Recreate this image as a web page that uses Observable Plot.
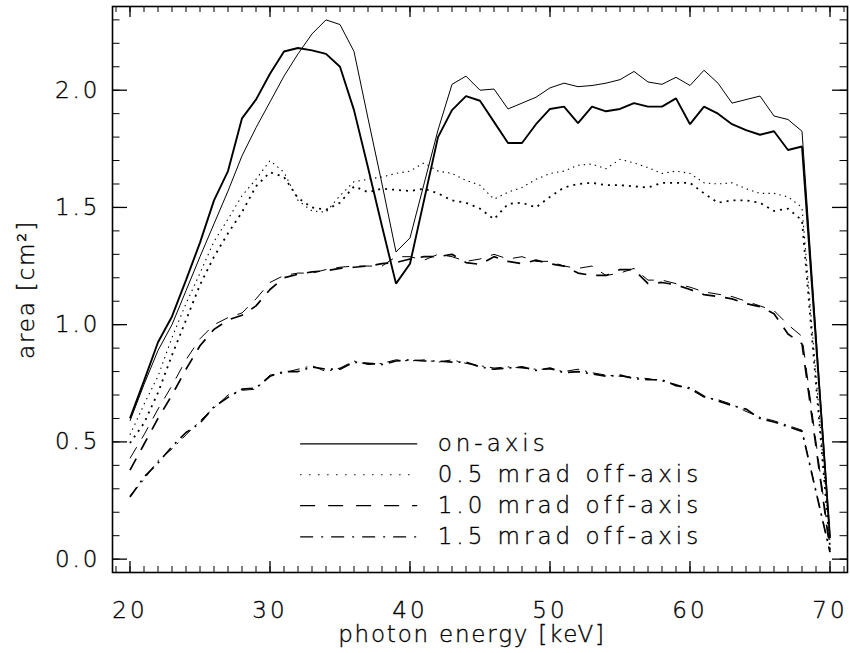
<!DOCTYPE html>
<html>
<head>
<meta charset="utf-8">
<script src="https://cdn.jsdelivr.net/npm/d3@7"></script>
<script src="https://cdn.jsdelivr.net/npm/@observablehq/plot@0.6"></script>
<style>
  html, body { margin: 0; padding: 0; background: white; }
  #chart { width: 850px; height: 653px; }
  #chart text { fill: black; stroke: black; stroke-width: 0.35px; }
  .tk text { letter-spacing: 3px; }
  .lg text { letter-spacing: 4px; }
  .tt text { letter-spacing: 1.8px; }
</style>
</head>
<body>
<div id="chart"></div>
<script>
// photon energy grid [keV]
const energy = [20,21,22,23,24,25,26,27,28,29,30,31,32,33,34,35,36,37,38,39,40,41,42,43,44,45,46,47,48,49,50,51,52,53,54,55,56,57,58,59,60,61,62,63,64,65,66,67,68,70];

// on-axis (two curves)
const onAxisA = [0.60,0.76,0.925,1.035,1.19,1.35,1.53,1.655,1.88,1.96,2.07,2.165,2.18,2.17,2.155,2.10,1.915,1.67,1.42,1.175,1.26,1.53,1.80,1.915,1.975,1.955,1.865,1.775,1.775,1.855,1.92,1.93,1.86,1.93,1.91,1.92,1.945,1.93,1.93,1.965,1.855,1.93,1.90,1.855,1.83,1.81,1.825,1.745,1.76,0.09];
const onAxisB = [0.59,0.745,0.89,1.0,1.145,1.29,1.43,1.57,1.72,1.84,1.95,2.06,2.155,2.24,2.30,2.28,2.165,1.88,1.60,1.31,1.37,1.60,1.83,2.025,2.06,2.0,2.005,1.92,1.945,1.97,2.01,2.03,2.015,2.02,2.03,2.045,2.08,2.035,2.025,2.055,2.02,2.085,2.03,1.945,1.96,1.975,1.89,1.875,1.825,0.10];

// 0.5 mrad off-axis
const off05A = [0.53,0.66,0.78,0.945,1.09,1.22,1.355,1.45,1.55,1.62,1.70,1.65,1.53,1.485,1.48,1.55,1.61,1.62,1.63,1.645,1.655,1.69,1.655,1.645,1.615,1.595,1.535,1.565,1.585,1.62,1.645,1.655,1.68,1.685,1.665,1.705,1.69,1.67,1.645,1.655,1.645,1.605,1.60,1.605,1.58,1.56,1.56,1.545,1.50,0.07];
const off05B = [0.495,0.58,0.71,0.87,1.02,1.17,1.29,1.39,1.48,1.59,1.65,1.63,1.54,1.50,1.49,1.52,1.59,1.565,1.58,1.575,1.57,1.58,1.56,1.53,1.52,1.495,1.45,1.515,1.52,1.50,1.545,1.585,1.60,1.605,1.595,1.595,1.59,1.585,1.605,1.605,1.605,1.56,1.52,1.53,1.53,1.52,1.485,1.495,1.445,0.05];

// 1.0 mrad off-axis
const off10A = [0.43,0.53,0.64,0.74,0.85,0.94,1.00,1.03,1.05,1.11,1.18,1.21,1.22,1.22,1.235,1.245,1.25,1.25,1.25,1.29,1.29,1.275,1.30,1.29,1.27,1.28,1.30,1.28,1.29,1.27,1.27,1.25,1.24,1.25,1.21,1.22,1.24,1.19,1.19,1.175,1.16,1.14,1.13,1.12,1.10,1.08,1.06,1.00,0.95,0.05];
const off10B = [0.38,0.49,0.60,0.70,0.81,0.91,0.98,1.02,1.04,1.08,1.15,1.20,1.215,1.225,1.23,1.24,1.245,1.25,1.26,1.265,1.28,1.29,1.29,1.30,1.265,1.257,1.29,1.27,1.26,1.275,1.26,1.25,1.22,1.21,1.21,1.235,1.235,1.175,1.18,1.17,1.15,1.128,1.12,1.11,1.09,1.077,1.047,0.96,0.918,0.04];

// 1.5 mrad off-axis
const off15A = [0.27,0.34,0.42,0.47,0.53,0.59,0.645,0.70,0.72,0.725,0.785,0.795,0.81,0.825,0.80,0.815,0.845,0.83,0.835,0.85,0.845,0.85,0.84,0.85,0.835,0.825,0.815,0.82,0.815,0.81,0.81,0.80,0.81,0.795,0.785,0.78,0.775,0.77,0.76,0.745,0.725,0.69,0.68,0.66,0.63,0.605,0.59,0.57,0.55,0.03];
const off15B = [0.265,0.35,0.41,0.48,0.54,0.58,0.65,0.69,0.725,0.73,0.78,0.80,0.80,0.82,0.81,0.81,0.84,0.835,0.83,0.845,0.85,0.845,0.845,0.84,0.84,0.82,0.81,0.815,0.82,0.805,0.815,0.795,0.80,0.79,0.78,0.785,0.77,0.765,0.765,0.74,0.73,0.695,0.675,0.655,0.64,0.60,0.585,0.565,0.545,0.03];

// legend
const legendLabels = ["on-axis", "0.5 mrad off-axis", "1.0 mrad off-axis", "1.5 mrad off-axis"];
const legendY = [0.492, 0.36, 0.228, 0.095];

// axis ticks
const xMajor = [20, 30, 40, 50, 60, 70];
const xMinor = d3.range(19, 72, 1);
const yMajor = [0.0, 0.5, 1.0, 1.5, 2.0];
const yMinor = d3.range(0, 24).map(i => i / 10);

const series = [
  {vals: onAxisA, dash: null, w: 1.9},
  {vals: onAxisB, dash: null, w: 1.0},
  {vals: off05A, dash: "1.4,4.2", w: 1.1},
  {vals: off05B, dash: "2,5", w: 1.8},
  {vals: off10A, dash: "13,10", w: 1.0},
  {vals: off10B, dash: "13,10", w: 1.7},
  {vals: off15A, dash: "12,6,2,6", w: 1.0},
  {vals: off15B, dash: "12,6,2,6", w: 1.7}
];

const legendDash = [null, "1.4,7.6", "15,13", "13,8,2,8"];
const legendData = legendLabels.map((label, i) => ({label, y: legendY[i], dash: legendDash[i]}));

const W = 850, H = 653, mL = 112, mR = 3, mT = 6, mB = 81;
const innerH = H - mT - mB;
const innerW = W - mL - mR;

const lineMarks = series.map(s =>
  Plot.line(energy.map((e, i) => ({e, v: s.vals[i]})), {
    x: "e", y: "v", stroke: "black", strokeWidth: s.w,
    strokeDasharray: s.dash, strokeLinejoin: "miter", strokeLinecap: "butt"
  })
);

const legendMarks = legendData.map(d => [
  Plot.ruleY([d], {x1: 32.19, x2: 40.55, y: "y", stroke: "black", strokeWidth: 1.2, strokeDasharray: d.dash}),
  Plot.text([d], {x: 41.98, y: "y", text: "label", textAnchor: "start", lineAnchor: "middle", fontSize: 23, fill: "black", className: "lg"})
]).flat();

const chart = Plot.plot({
  width: W, height: H,
  marginLeft: mL, marginRight: mR, marginTop: mT, marginBottom: mB,
  x: {domain: [18.75, 71.25]},
  y: {domain: [-0.057, 2.357]},
  style: {fontFamily: "DejaVu Sans", fontSize: "23px", fontWeight: 200, background: "white", color: "black"},
  marks: [
    // minor / major ticks, drawn inward on all four sides
    Plot.tickX(xMinor, {x: d => d, insetTop: innerH - 6, stroke: "black", strokeWidth: 1}),
    Plot.tickX(xMinor, {x: d => d, insetBottom: innerH - 6, stroke: "black", strokeWidth: 1}),
    Plot.tickX(xMajor, {x: d => d, insetTop: innerH - 11, stroke: "black", strokeWidth: 1.3}),
    Plot.tickX(xMajor, {x: d => d, insetBottom: innerH - 11, stroke: "black", strokeWidth: 1.3}),
    Plot.tickY(yMinor, {y: d => d, insetRight: innerW - 7.5, stroke: "black", strokeWidth: 1}),
    Plot.tickY(yMinor, {y: d => d, insetLeft: innerW - 7.5, stroke: "black", strokeWidth: 1}),
    Plot.tickY(yMajor, {y: d => d, insetRight: innerW - 15, stroke: "black", strokeWidth: 1.3}),
    Plot.tickY(yMajor, {y: d => d, insetLeft: innerW - 15, stroke: "black", strokeWidth: 1.3}),
    Plot.axisX(xMajor, {tickSize: 0, tickPadding: 29, label: null, fontSize: 23, className: "tk"}),
    Plot.axisY(yMajor, {tickSize: 0, tickPadding: 12, label: null, fontSize: 23, tickFormat: d => d.toFixed(1), className: "tk"}),
    ...lineMarks,
    ...legendMarks,
    Plot.frame({stroke: "black", strokeWidth: 1.6}),
    Plot.text(["photon energy [keV]"], {frameAnchor: "bottom", textAnchor: "middle", lineAnchor: "middle", dx: -8, dy: 62, text: d => d, fontSize: 23, fill: "black", className: "tt"}),
    Plot.text(["area [cm²]"], {frameAnchor: "left", textAnchor: "middle", lineAnchor: "middle", dx: -86, rotate: -90, text: d => d, fontSize: 23, fill: "black", className: "tt"})
  ]
});

document.getElementById("chart").appendChild(chart);
</script>
</body>
</html>
